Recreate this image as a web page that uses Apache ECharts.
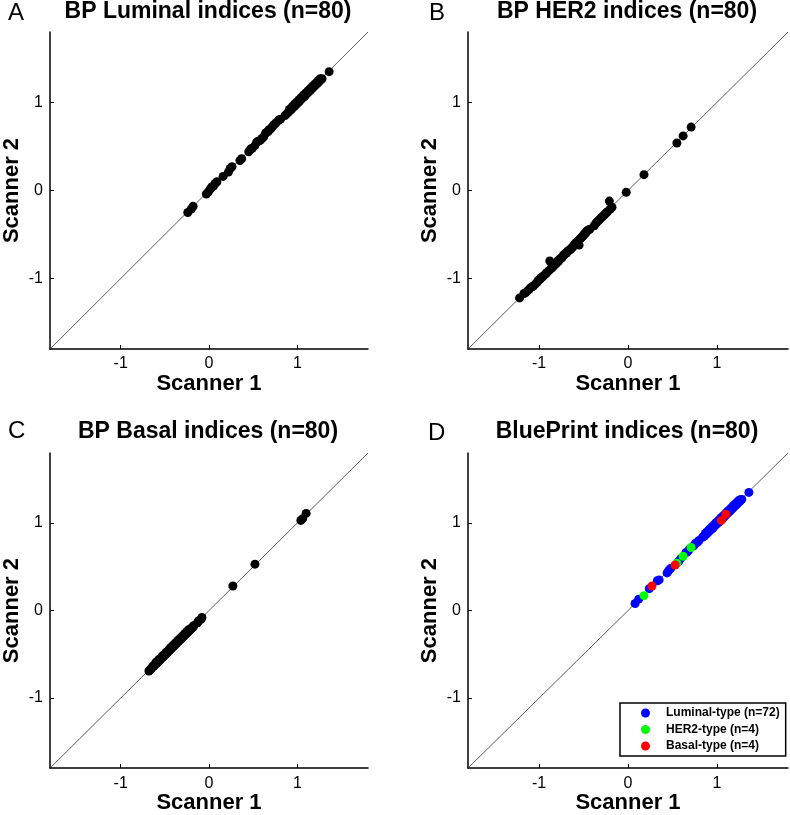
<!DOCTYPE html>
<html>
<head>
<meta charset="utf-8">
<script src="https://cdn.jsdelivr.net/npm/echarts@6/dist/echarts.min.js"></script>
<style>
html,body{margin:0;padding:0;background:#fff;}
#chart{width:790px;height:815px;}
</style>
</head>
<body>
<div id="chart"></div>
<script>
// ---- data ----
var panelTitles = ['BP Luminal indices (n=80)', 'BP HER2 indices (n=80)', 'BP Basal indices (n=80)', 'BluePrint indices (n=80)'];
var panelLetters = ['A', 'B', 'C', 'D'];
var xName = 'Scanner 1';
var yName = 'Scanner 2';
var tickValues = [-1, 0, 1];
var axisRange = [-1.8, 1.8];
var diagLine = [-1.8, 1.8];

var lumX = [-0.24,-0.20,-0.18,-0.03,-0.01,0.01,0.03,0.05,0.07,0.09,0.16,0.22,0.24,0.26,0.35,0.37,0.45,0.47,0.49,0.52,0.54,0.56,0.58,0.60,0.62,0.64,0.65,0.67,0.68,0.70,0.72,0.74,0.76,0.79,0.81,0.86,0.88,0.90,0.91,0.93,0.94,0.95,0.96,0.97,0.98,0.99,1.00,1.01,1.02,1.03,1.04,1.05,1.06,1.07,1.08,1.09,1.10,1.11,1.12,1.13,1.14,1.15,1.16,1.17,1.18,1.19,1.20,1.21,1.22,1.23,1.24,1.25,1.26,1.27,1.28,1.02,0.97,1.08,1.36,0.92];
var lumY = [-0.25,-0.21,-0.18,-0.04,-0.02,0.01,0.04,0.05,0.08,0.10,0.16,0.21,0.25,0.27,0.34,0.36,0.44,0.47,0.48,0.51,0.55,0.56,0.57,0.59,0.61,0.65,0.66,0.67,0.69,0.70,0.73,0.75,0.77,0.80,0.81,0.85,0.87,0.89,0.92,0.92,0.95,0.94,0.97,0.96,0.99,0.98,1.01,1.00,1.03,1.02,1.05,1.04,1.07,1.06,1.09,1.08,1.11,1.10,1.13,1.12,1.15,1.14,1.17,1.16,1.19,1.18,1.21,1.20,1.23,1.22,1.25,1.24,1.27,1.26,1.27,1.01,0.98,1.07,1.35,0.91];

var her2X = [-1.22,-1.17,-1.15,-1.13,-1.11,-1.09,-1.07,-1.06,-1.04,-1.02,-1.01,-0.99,-0.98,-0.96,-0.95,-0.93,-0.92,-0.91,-0.89,-0.88,-0.87,-0.86,-0.85,-0.84,-0.82,-0.81,-0.80,-0.79,-0.78,-0.77,-0.75,-0.74,-0.73,-0.72,-0.71,-0.70,-0.69,-0.68,-0.66,-0.65,-0.64,-0.63,-0.62,-0.61,-0.60,-0.59,-0.58,-0.57,-0.56,-0.55,-0.54,-0.53,-0.52,-0.51,-0.50,-0.49,-0.48,-0.47,-0.46,-0.45,-0.43,-0.38,-0.36,-0.35,-0.33,-0.32,-0.30,-0.29,-0.27,-0.26,-0.24,-0.23,-0.21,-0.20,-0.18,-0.02,0.18,0.55,0.62,0.71];
var her2Y = [-1.22,-1.17,-1.16,-1.14,-1.12,-1.10,-1.09,-1.08,-1.06,-1.04,-1.02,-1.01,-0.99,-0.98,-0.97,-0.95,-0.94,-0.93,-0.91,-0.80,-0.89,-0.88,-0.87,-0.86,-0.84,-0.83,-0.82,-0.80,-0.80,-0.78,-0.77,-0.76,-0.74,-0.73,-0.72,-0.71,-0.71,-0.69,-0.68,-0.67,-0.66,-0.65,-0.64,-0.62,-0.62,-0.60,-0.59,-0.58,-0.57,-0.62,-0.55,-0.54,-0.53,-0.52,-0.51,-0.49,-0.49,-0.47,-0.46,-0.45,-0.44,-0.40,-0.37,-0.36,-0.34,-0.33,-0.31,-0.30,-0.28,-0.27,-0.25,-0.24,-0.12,-0.21,-0.19,-0.02,0.18,0.54,0.62,0.72];

var basX = [-0.68,-0.67,-0.66,-0.65,-0.64,-0.63,-0.62,-0.61,-0.60,-0.60,-0.59,-0.58,-0.57,-0.57,-0.56,-0.55,-0.55,-0.54,-0.53,-0.53,-0.52,-0.51,-0.51,-0.50,-0.49,-0.49,-0.48,-0.47,-0.47,-0.46,-0.45,-0.45,-0.44,-0.43,-0.43,-0.42,-0.41,-0.41,-0.40,-0.39,-0.39,-0.38,-0.37,-0.37,-0.36,-0.35,-0.35,-0.34,-0.33,-0.33,-0.32,-0.31,-0.31,-0.30,-0.29,-0.29,-0.28,-0.27,-0.27,-0.26,-0.25,-0.25,-0.24,-0.23,-0.23,-0.22,-0.21,-0.20,-0.19,-0.18,-0.17,-0.13,-0.12,-0.09,-0.08,0.27,0.52,1.04,1.06,1.10];
var basY = [-0.69,-0.68,-0.67,-0.66,-0.64,-0.64,-0.63,-0.61,-0.61,-0.59,-0.60,-0.58,-0.58,-0.56,-0.57,-0.55,-0.56,-0.54,-0.54,-0.52,-0.53,-0.51,-0.52,-0.50,-0.50,-0.48,-0.49,-0.47,-0.48,-0.46,-0.46,-0.44,-0.45,-0.43,-0.42,-0.43,-0.41,-0.40,-0.41,-0.39,-0.38,-0.39,-0.37,-0.36,-0.37,-0.35,-0.34,-0.35,-0.33,-0.32,-0.33,-0.31,-0.30,-0.31,-0.29,-0.28,-0.29,-0.27,-0.26,-0.27,-0.25,-0.24,-0.25,-0.23,-0.22,-0.23,-0.21,-0.21,-0.19,-0.19,-0.17,-0.14,-0.12,-0.10,-0.08,0.28,0.53,1.03,1.05,1.11];

var bpLumX = [0.08,0.12,0.24,0.33,0.35,0.44,0.46,0.48,0.57,0.59,0.65,0.67,0.69,0.74,0.76,0.78,0.80,0.84,0.86,0.87,0.88,0.89,0.90,0.91,0.92,0.93,0.94,0.95,0.96,0.97,0.98,0.99,1.00,1.01,1.02,1.03,1.04,1.05,1.06,1.07,1.08,1.09,1.10,1.11,1.12,1.13,1.14,1.15,1.16,1.17,1.18,1.19,1.20,1.21,1.22,1.23,1.24,1.25,1.26,1.27,1.28,0.95,0.99,1.02,1.05,1.08,1.12,1.15,1.19,1.22,0.92,1.36];
var bpLumY = [0.08,0.13,0.25,0.34,0.35,0.43,0.46,0.48,0.56,0.59,0.66,0.67,0.70,0.74,0.77,0.78,0.80,0.84,0.85,0.88,0.87,0.90,0.89,0.92,0.91,0.94,0.93,0.96,0.95,0.98,0.97,1.00,0.99,1.02,1.01,1.04,1.03,1.06,1.05,1.08,1.07,1.10,1.09,1.12,1.11,1.14,1.13,1.16,1.15,1.18,1.17,1.20,1.19,1.22,1.21,1.24,1.23,1.26,1.25,1.27,1.27,0.94,1.00,1.01,1.06,1.07,1.13,1.14,1.20,1.21,0.93,1.35];
var bpHerX = [0.18,0.55,0.62,0.71];
var bpHerY = [0.17,0.54,0.62,0.72];
var bpBasX = [0.27,0.53,1.05,1.10];
var bpBasY = [0.28,0.52,1.03,1.10];
var legendNames = ['Luminal-type (n=72)', 'HER2-type (n=4)', 'Basal-type (n=4)'];
var typeColors = ['#0000ff', '#00ff00', '#ff0000'];

function zip(a, b) { return a.map(function (v, i) { return [v, b[i]]; }); }

// ---- layout ----
var FONT = '"Liberation Sans", Arial, Helvetica, sans-serif';
var grids = [
  {left: 49, top: 32, width: 319, height: 317},
  {left: 468, top: 32, width: 320, height: 317},
  {left: 49, top: 453, width: 319, height: 316},
  {left: 468, top: 453, width: 320, height: 316}
];
var titleCx = [208, 627, 208, 627];
var titleTop = [0, 0, 420, 420];
var letterPos = [[8, 1], [429, 1], [8, 419], [428, 421]];

var xAxes = [], yAxes = [], titles = [], series = [];
grids.forEach(function (g, i) {
  var common = {
    type: 'value', gridIndex: i, min: axisRange[0], max: axisRange[1],
    axisLine: {show: true, onZero: false, lineStyle: {color: '#000', width: 1.5}},
    axisTick: {show: true, inside: true, length: 4, customValues: tickValues, lineStyle: {color: '#000', width: 1}},
    axisLabel: {show: true, customValues: tickValues, color: '#000', fontSize: 16, fontFamily: FONT, margin: 7},
    splitLine: {show: false},
    nameLocation: 'middle',
    nameTextStyle: {fontSize: 22, fontWeight: 'bold', color: '#000', fontFamily: FONT}
  };
  xAxes.push(Object.assign({}, common, {name: xName, nameGap: 22, position: 'bottom'}));
  yAxes.push(Object.assign({}, common, {name: yName, nameGap: 27, position: 'left'}));
  titles.push({
    text: panelTitles[i], left: titleCx[i], top: titleTop[i], textAlign: 'center', padding: 0,
    textStyle: {fontSize: 23, fontWeight: 'bold', color: '#000', fontFamily: FONT}
  });
  titles.push({
    text: panelLetters[i], left: letterPos[i][0], top: letterPos[i][1], padding: 0,
    textStyle: {fontSize: 24, fontWeight: 'normal', color: '#000', fontFamily: FONT}
  });
  series.push({
    type: 'line', xAxisIndex: i, yAxisIndex: i, data: [[diagLine[0], diagLine[0]], [diagLine[1], diagLine[1]]],
    symbol: 'none', silent: true, lineStyle: {color: '#333', width: 0.8}, z: 1
  });
});

var blackDot = {color: '#000', opacity: 1};
series.push({type: 'scatter', xAxisIndex: 0, yAxisIndex: 0, data: zip(lumX, lumY), symbolSize: 9, itemStyle: blackDot, z: 3});
series.push({type: 'scatter', xAxisIndex: 1, yAxisIndex: 1, data: zip(her2X, her2Y), symbolSize: 9, itemStyle: blackDot, z: 3});
series.push({type: 'scatter', xAxisIndex: 2, yAxisIndex: 2, data: zip(basX, basY), symbolSize: 9, itemStyle: blackDot, z: 3});
series.push({name: legendNames[0], type: 'scatter', xAxisIndex: 3, yAxisIndex: 3, data: zip(bpLumX, bpLumY), symbolSize: 9, itemStyle: {color: typeColors[0], opacity: 1}, z: 3});
series.push({name: legendNames[1], type: 'scatter', xAxisIndex: 3, yAxisIndex: 3, data: zip(bpHerX, bpHerY), symbolSize: 9, itemStyle: {color: typeColors[1], opacity: 1}, z: 4});
series.push({name: legendNames[2], type: 'scatter', xAxisIndex: 3, yAxisIndex: 3, data: zip(bpBasX, bpBasY), symbolSize: 9, itemStyle: {color: typeColors[2], opacity: 1}, z: 5});

var chart = echarts.init(document.getElementById('chart'), null, {renderer: 'canvas'});
chart.setOption({
  animation: false,
  backgroundColor: '#fff',
  title: titles,
  grid: grids,
  xAxis: xAxes,
  yAxis: yAxes,
  legend: {
    data: legendNames, orient: 'vertical', left: 620, top: 703,
    icon: 'circle', itemWidth: 9, itemHeight: 9, itemGap: 4.5, selectedMode: false,
    borderColor: '#000', borderWidth: 1.5, padding: [4, 6, 4, 21], backgroundColor: '#fff',
    itemStyle: {opacity: 1},
    textStyle: {fontSize: 12, fontWeight: 'bold', color: '#000', fontFamily: FONT, padding: [0, 0, 0, 11]}
  },
  series: series
});
</script>
</body>
</html>
